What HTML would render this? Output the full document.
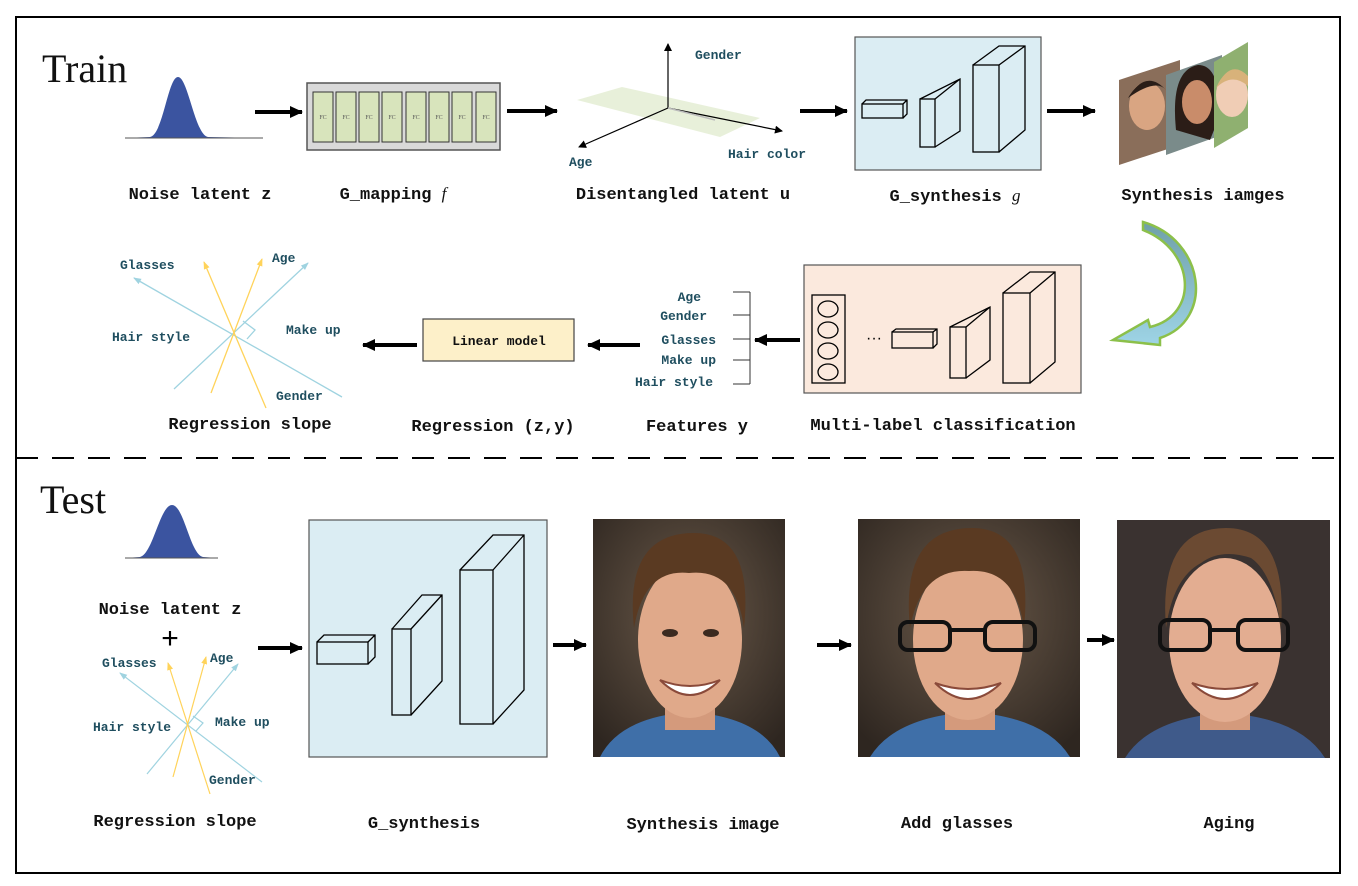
<!DOCTYPE html>
<html><head><meta charset="utf-8"><style>
html,body{margin:0;padding:0;background:#fff}
svg{display:block}
.lb{font-family:"Liberation Mono",monospace;font-size:17px;font-weight:bold;fill:#111;text-anchor:middle}
.sm{font-family:"Liberation Mono",monospace;font-size:13px;font-weight:bold;fill:#1f4e5f}
.big{font-family:"Liberation Serif",serif;font-size:40px;fill:#111}
</style></head><body>
<svg width="1358" height="886" viewBox="0 0 1358 886" xmlns="http://www.w3.org/2000/svg">
<defs>
<marker id="ah" markerWidth="13" markerHeight="14" refX="12" refY="7" orient="auto" markerUnits="userSpaceOnUse"><path d="M0,1 L13,7 L0,13 z" fill="#000"/></marker>
<marker id="a2" markerWidth="8" markerHeight="8" refX="7" refY="4" orient="auto" markerUnits="userSpaceOnUse"><path d="M0,0 L8,4 L0,8 z" fill="#000"/></marker>
<marker id="ab" markerWidth="8" markerHeight="8" refX="7" refY="4" orient="auto" markerUnits="userSpaceOnUse"><path d="M0,1 L8,4 L0,7 z" fill="#9fd3e0"/></marker>
<marker id="ay" markerWidth="8" markerHeight="8" refX="7" refY="4" orient="auto" markerUnits="userSpaceOnUse"><path d="M0,1 L8,4 L0,7 z" fill="#ffd35a"/></marker>
<linearGradient id="ga" x1="0" y1="0" x2="0" y2="1"><stop offset="0" stop-color="#6fa0a8"/><stop offset="1" stop-color="#9ed4e6"/></linearGradient>
<radialGradient id="bg1" cx="0.5" cy="0.4" r="0.7"><stop offset="0" stop-color="#6b5a4a"/><stop offset="1" stop-color="#2e2620"/></radialGradient>
</defs>
<rect x="16" y="17" width="1324" height="856" fill="none" stroke="#000" stroke-width="2"/>
<line x1="16" y1="458" x2="1340" y2="458" stroke="#000" stroke-width="2" stroke-dasharray="22,14"/>

<text class="big" x="42" y="82">Train</text>
<path d="M125,138 L150,137 C163,135 168,77 178,77 C188,77 195,135 208,137 L263,138 Z" fill="#3b54a0"/>
<line x1="125" y1="138" x2="263" y2="138" stroke="#555" stroke-width="1"/>
<line x1="255" y1="112" x2="302" y2="112" stroke="#000" stroke-width="4" marker-end="url(#ah)"/>
<rect x="307" y="83" width="193" height="67" fill="#d9d9d9" stroke="#555" stroke-width="1.5"/>
<g fill="#d8e4bc" stroke="#333" stroke-width="1">
<rect x="313" y="92" width="20" height="50"/><rect x="336" y="92" width="20" height="50"/><rect x="359" y="92" width="20" height="50"/><rect x="382" y="92" width="20" height="50"/><rect x="406" y="92" width="20" height="50"/><rect x="429" y="92" width="20" height="50"/><rect x="452" y="92" width="20" height="50"/><rect x="476" y="92" width="20" height="50"/>
</g>
<g font-family="Liberation Serif" font-size="6" fill="#555" text-anchor="middle"><text x="323" y="119">FC</text><text x="346" y="119">FC</text><text x="369" y="119">FC</text><text x="392" y="119">FC</text><text x="416" y="119">FC</text><text x="439" y="119">FC</text><text x="462" y="119">FC</text><text x="486" y="119">FC</text></g>
<line x1="507" y1="111" x2="557" y2="111" stroke="#000" stroke-width="4" marker-end="url(#ah)"/>
<polygon points="577,100 622,87 760,118 720,137" fill="#e6eed6" opacity="0.9"/>
<line x1="668" y1="108" x2="668" y2="44" stroke="#000" stroke-width="1.2" marker-end="url(#a2)"/>
<line x1="668" y1="108" x2="579" y2="147" stroke="#000" stroke-width="1.2" marker-end="url(#a2)"/>
<line x1="668" y1="108" x2="782" y2="131" stroke="#000" stroke-width="1.2" marker-end="url(#a2)"/>
<line x1="668" y1="108" x2="715" y2="120" stroke="#bbb" stroke-width="1.5"/>
<text class="sm" x="695" y="59">Gender</text>
<text class="sm" x="569" y="166">Age</text>
<text class="sm" x="728" y="158">Hair color</text>
<line x1="800" y1="111" x2="847" y2="111" stroke="#000" stroke-width="4" marker-end="url(#ah)"/>
<rect x="855" y="37" width="186" height="133" fill="#dbedf3" stroke="#555" stroke-width="1.2"/>
<g fill="none" stroke="#000" stroke-width="1.3">
<rect x="862" y="104" width="41" height="14"/><path d="M862,104 l4,-4 h41 v14 l-4,4 M903,104 l4,-4"/>
<rect x="920" y="99" width="15" height="48"/><path d="M920,99 l40,-20 v52 l-25,16 M935,99 l25,-20"/>
<rect x="973" y="65" width="26" height="87"/><path d="M973,65 l26,-19 h26 v84 l-26,22 M999,65 l26,-19"/>
</g>
<line x1="1047" y1="111" x2="1095" y2="111" stroke="#000" stroke-width="4" marker-end="url(#ah)"/>
<polygon points="1119,80 1180,60 1180,145 1119,165" fill="#8a6e5a"/>
<ellipse cx="1147" cy="106" rx="18" ry="24" fill="#d9a582"/>
<path d="M1128,98 q18,-30 38,-8 q-10,-12 -38,8z" fill="#2a1e18"/>
<polygon points="1166,75 1222,55 1222,135 1166,155" fill="#7a8b8a"/>
<path d="M1176,130 q-6,-60 22,-65 q24,0 20,55 l-8,20 z" fill="#2b1d17"/>
<ellipse cx="1197" cy="102" rx="15" ry="22" fill="#c98c6a"/>
<polygon points="1214,62 1248,42 1248,128 1214,148" fill="#8fb070"/>
<ellipse cx="1232" cy="95" rx="16" ry="22" fill="#f0cdb5"/>
<path d="M1216,88 q14,-30 32,-12 l0,10 q-16,-14 -32,2z" fill="#d8b27a"/>
<text class="lb" x="200" y="199">Noise latent z</text>
<text class="lb" x="393" y="199">G_mapping <tspan font-family="Liberation Serif" font-style="italic" font-weight="normal">f</tspan></text>
<text class="lb" x="683" y="199">Disentangled latent u</text>
<text class="lb" x="955" y="201">G_synthesis <tspan font-family="Liberation Serif" font-style="italic" font-weight="normal">g</tspan></text>
<text class="lb" x="1203" y="200">Synthesis iamges</text>
<path d="M1143,222 C1205,240 1215,320 1160,338 L1160,345 L1113,340 L1148,320 L1150,327 C1200,315 1195,250 1143,230 Z" fill="url(#ga)" stroke="#8cc04a" stroke-width="2.5"/>
<rect x="804" y="265" width="277" height="128" fill="#fbe9dd" stroke="#555" stroke-width="1.2"/>
<g fill="none" stroke="#000" stroke-width="1.3">
<rect x="812" y="295" width="33" height="88"/>
<ellipse cx="828" cy="309" rx="10" ry="8"/><ellipse cx="828" cy="330" rx="10" ry="8"/><ellipse cx="828" cy="351" rx="10" ry="8"/><ellipse cx="828" cy="372" rx="10" ry="8"/>
<rect x="892" y="332" width="41" height="16"/><path d="M892,332 l4,-3 h41 v15 l-4,4 M933,332 l4,-3"/>
<rect x="950" y="327" width="16" height="51"/><path d="M950,327 l40,-20 v53 l-24,18 M966,327 l24,-20"/>
<rect x="1003" y="293" width="27" height="90"/><path d="M1003,293 l27,-21 h25 v90 l-25,21 M1030,293 l25,-21"/>
</g>
<text x="866" y="343" font-family="Liberation Sans" font-size="16" fill="#000">···</text>
<line x1="800" y1="340" x2="755" y2="340" stroke="#000" stroke-width="4" marker-end="url(#ah)"/>
<text class="sm" x="701" y="301" text-anchor="end">Age</text>
<text class="sm" x="707" y="320" text-anchor="end">Gender</text>
<text class="sm" x="716" y="344" text-anchor="end">Glasses</text>
<text class="sm" x="716" y="364" text-anchor="end">Make up</text>
<text class="sm" x="713" y="386" text-anchor="end">Hair style</text>
<g stroke="#333" stroke-width="1"><line x1="750" y1="292" x2="750" y2="384"/>
<line x1="733" y1="292" x2="750" y2="292"/><line x1="733" y1="315" x2="750" y2="315"/><line x1="733" y1="339" x2="750" y2="339"/><line x1="733" y1="360" x2="750" y2="360"/><line x1="733" y1="384" x2="750" y2="384"/></g>
<line x1="640" y1="345" x2="588" y2="345" stroke="#000" stroke-width="4" marker-end="url(#ah)"/>
<rect x="423" y="319" width="151" height="42" fill="#fdf0c9" stroke="#444" stroke-width="1.2"/>
<text class="lb" x="499" y="345" style="font-size:13px">Linear model</text>
<line x1="417" y1="345" x2="363" y2="345" stroke="#000" stroke-width="4" marker-end="url(#ah)"/>
<g stroke-width="1.3" fill="none">
<line x1="342" y1="397" x2="134" y2="278" stroke="#9fd3e0" marker-end="url(#ab)"/>
<line x1="174" y1="389" x2="308" y2="263" stroke="#9fd3e0" marker-end="url(#ab)"/>
<line x1="266" y1="408" x2="204" y2="262" stroke="#ffd35a" marker-end="url(#ay)"/>
<line x1="211" y1="393" x2="262" y2="259" stroke="#ffd35a" marker-end="url(#ay)"/>
<path d="M243,321 l12,9 l-8,9" stroke="#9fd3e0"/>
</g>
<text class="sm" x="120" y="269">Glasses</text>
<text class="sm" x="272" y="262">Age</text>
<text class="sm" x="112" y="341">Hair style</text>
<text class="sm" x="286" y="334">Make up</text>
<text class="sm" x="276" y="400">Gender</text>
<text class="lb" x="250" y="429">Regression slope</text>
<text class="lb" x="493" y="431">Regression (z,y)</text>
<text class="lb" x="697" y="431">Features y</text>
<text class="lb" x="943" y="430">Multi-label classification</text>

<text class="big" x="40" y="513">Test</text>
<path d="M125,558 L140,557 C153,554 160,505 172,505 C184,505 190,554 203,557 L218,558 Z" fill="#3b54a0"/>
<line x1="125" y1="558" x2="218" y2="558" stroke="#555" stroke-width="1"/>
<text class="lb" x="170" y="614">Noise latent z</text>
<text x="170" y="648" font-family="Liberation Sans" font-size="30" text-anchor="middle" fill="#000">+</text>
<g stroke-width="1.2" fill="none">
<line x1="262" y1="782" x2="120" y2="673" stroke="#9fd3e0" marker-end="url(#ab)"/>
<line x1="147" y1="774" x2="238" y2="664" stroke="#9fd3e0" marker-end="url(#ab)"/>
<line x1="210" y1="794" x2="168" y2="663" stroke="#ffd35a" marker-end="url(#ay)"/>
<line x1="173" y1="777" x2="206" y2="657" stroke="#ffd35a" marker-end="url(#ay)"/>
<path d="M193,716 l10,7 l-7,8" stroke="#9fd3e0"/>
</g>
<text class="sm" x="102" y="667">Glasses</text>
<text class="sm" x="210" y="662">Age</text>
<text class="sm" x="93" y="731">Hair style</text>
<text class="sm" x="215" y="726">Make up</text>
<text class="sm" x="209" y="784">Gender</text>
<text class="lb" x="175" y="826">Regression slope</text>
<line x1="258" y1="648" x2="302" y2="648" stroke="#000" stroke-width="4" marker-end="url(#ah)"/>
<rect x="309" y="520" width="238" height="237" fill="#dbedf3" stroke="#555" stroke-width="1.2"/>
<g fill="none" stroke="#000" stroke-width="1.3">
<rect x="317" y="642" width="51" height="22"/><path d="M317,642 l7,-7 h51 v22 l-7,7 M368,642 l7,-7"/>
<rect x="392" y="629" width="19" height="86"/><path d="M392,629 l30,-34 h20 v86 l-31,34 M411,629 l31,-34"/>
<rect x="460" y="570" width="33" height="154"/><path d="M460,570 l33,-35 h31 v155 l-31,34 M493,570 l31,-35"/>
</g>
<text class="lb" x="424" y="828">G_synthesis</text>
<line x1="553" y1="645" x2="586" y2="645" stroke="#000" stroke-width="4" marker-end="url(#ah)"/>
<g>
<rect x="593" y="519" width="192" height="238" fill="url(#bg1)"/>
<path d="M600,757 q20,-40 90,-45 q70,5 90,45z" fill="#3f6fa8"/>
<rect x="665" y="690" width="50" height="40" fill="#d49a7c"/>
<ellipse cx="690" cy="640" rx="52" ry="78" fill="#e0a98a"/>
<path d="M634,628 q-10,-95 60,-95 q60,0 50,95 q-8,-60 -55,-55 q-45,-5 -55,55z" fill="#5a3a22"/>
<ellipse cx="670" cy="633" rx="8" ry="4" fill="#3b2a20"/><ellipse cx="711" cy="633" rx="8" ry="4" fill="#3b2a20"/>
<path d="M660,680 q30,30 60,0 q-30,12 -60,0z" fill="#fff" stroke="#8a4a3a" stroke-width="2"/>
</g>
<line x1="817" y1="645" x2="851" y2="645" stroke="#000" stroke-width="4" marker-end="url(#ah)"/>
<g>
<rect x="858" y="519" width="222" height="238" fill="url(#bg1)"/>
<path d="M870,757 q25,-40 100,-45 q75,5 100,45z" fill="#3f6fa8"/>
<rect x="945" y="690" width="50" height="40" fill="#d49a7c"/>
<ellipse cx="968" cy="640" rx="55" ry="80" fill="#e0a98a"/>
<path d="M910,628 q-10,-100 62,-100 q62,0 52,100 q-8,-60 -55,-57 q-48,-3 -59,57z" fill="#5a3a22"/>
<g fill="none" stroke="#111" stroke-width="4"><rect x="900" y="622" width="50" height="28" rx="8"/><rect x="985" y="622" width="50" height="28" rx="8"/><line x1="950" y1="630" x2="985" y2="630"/></g>
<path d="M935,683 q33,32 66,0 q-33,12 -66,0z" fill="#fff" stroke="#8a4a3a" stroke-width="2"/>
</g>
<line x1="1087" y1="640" x2="1114" y2="640" stroke="#000" stroke-width="4" marker-end="url(#ah)"/>
<g>
<rect x="1117" y="520" width="213" height="238" fill="#3a3230"/>
<path d="M1125,758 q25,-40 100,-45 q75,5 100,45z" fill="#3f5a8a"/>
<rect x="1200" y="690" width="50" height="40" fill="#d49a7c"/>
<ellipse cx="1225" cy="640" rx="56" ry="82" fill="#e3ad91"/>
<path d="M1166,628 q-8,-100 60,-100 q62,0 55,100 q-8,-55 -30,-70 q-30,-10 -50,5 q-28,15 -35,65z" fill="#6b4a32"/>
<g fill="none" stroke="#111" stroke-width="4"><rect x="1160" y="620" width="50" height="30" rx="8"/><rect x="1238" y="620" width="50" height="30" rx="8"/><line x1="1210" y1="630" x2="1238" y2="630"/></g>
<path d="M1192,683 q33,32 66,0 q-33,12 -66,0z" fill="#fff" stroke="#8a4a3a" stroke-width="2"/>
</g>
<text class="lb" x="703" y="829">Synthesis image</text>
<text class="lb" x="957" y="828">Add glasses</text>
<text class="lb" x="1229" y="828">Aging</text>
</svg>
</body></html>
